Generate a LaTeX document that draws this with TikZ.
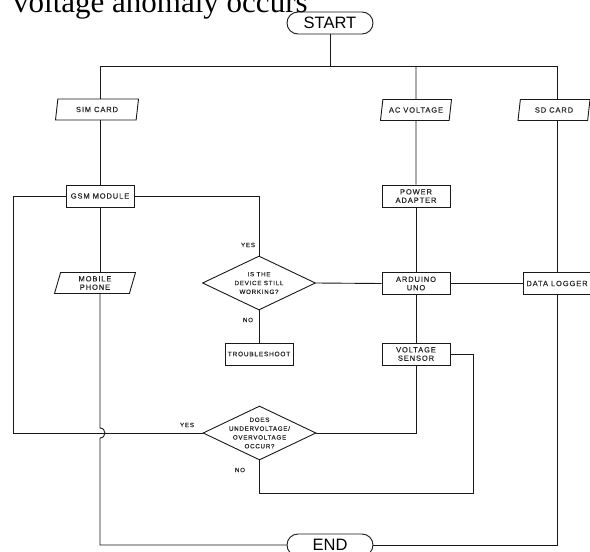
\documentclass[tikz,border=0pt]{standalone}
\usepackage{fontspec}
\setmainfont{Liberation Serif}
\newfontfamily\lblfont[LetterSpace=12,FakeBold=0.4]{Liberation Sans}
\newfontfamily\termfont{Liberation Sans}
\usetikzlibrary{shapes.geometric}
\tikzset{
  base/.style={draw=black!90, line width=0.9pt, text=black!85, align=center, inner sep=0pt},
  proc/.style={base, rectangle, minimum width=68pt, minimum height=22pt,
    font=\lblfont\fontsize{7.5}{8.4}\selectfont},
  io/.style={base, trapezium, trapezium left angle=66, trapezium right angle=114,
    trapezium stretches body, minimum height=21pt,
    font=\lblfont\fontsize{7.5}{8.4}\selectfont},
  term/.style={base, rectangle, rounded corners=11pt, minimum width=86pt, minimum height=22pt,
    text=black, font=\termfont\fontsize{16.5}{18}\selectfont},
  dia/.style={base, diamond, minimum width=113pt, minimum height=54pt},
  diatext/.style={align=center, inner sep=0pt, text=black!85,
    font=\lblfont\fontsize{6.2}{8.8}\selectfont},
  small/.style={inner sep=0pt, text=black!85, font=\lblfont\fontsize{6.2}{7}\selectfont},
  conn/.style={draw=black!90, line width=0.9pt}
}
\begin{document}
\begin{tikzpicture}[x=1pt,y=-1pt]
\useasboundingbox (0,0) rectangle (590,552);
\fill[white] (0,0) rectangle (590,552);

% title fragment
\node[anchor=base west, inner sep=0pt, font=\fontsize{31}{36}\selectfont] (title) at (13,12) {voltage anomaly occurs};

% terminals
\node[term] (start) at (330,23) {START};
\node[term] (end) at (330,545) {END};

% inputs
\node[io, minimum width=83pt] (sim) at (97,109.5) {SIM CARD};
\node[io, minimum width=71pt] (ac) at (416,110) {AC VOLTAGE};
\node[io, minimum width=72pt] (sd) at (554,110) {SD CARD};
\node[io, minimum width=81pt] (mob) at (95,283) {MOBILE\\PHONE};

% processes
\node[proc] (gsm) at (100,196) {GSM MODULE};
\node[proc] (pow) at (416,196) {POWER\\ADAPTER};
\node[proc] (ard) at (416,283.5) {ARDUINO\\UNO};
\node[proc] (dl) at (557,283.5) {DATA LOGGER};
\node[proc] (vs) at (416,354) {VOLTAGE\\SENSOR};
\node[proc, font=\lblfont\fontsize{6.5}{8}\selectfont] (trb) at (259,354) {TROUBLESHOOT};

% decisions
\node[dia] (d1) at (259,283) {};
\node[diatext] (d1t) at (d1.center) {IS THE\\DEVICE STILL\\WORKING?};
\node[dia] (d2) at (259.5,433) {};
\node[diatext] (d2t) at (d2.center) {DOES\\UNDERVOLTAGE/\\OVERVOLTAGE\\OCCUR?};

% labels
\node[small] (yes1) at (248,245) {YES};
\node[small] (no1) at (248,320) {NO};
\node[small] (yes2) at (187,425) {YES};
\node[small] (no2) at (240,470) {NO};

% helper coordinates
\coordinate (T) at (330,66);
\coordinate (L) at (100,66);
\coordinate (R) at (557,66);
\coordinate (M) at (416,66);
\coordinate (FL) at (13,300);
\coordinate (VR) at (473,493);
\coordinate (J1) at (100,428);
\coordinate (J2) at (100,438);

% connectors
\draw[conn] (start) -- (T);
\draw[conn] (L) -- (R);
\draw[conn] (L) -- (sim.north -| L);
\draw[conn] (sim.south -| L) -- (gsm.north);
\draw[conn] (gsm.south) -- (mob.north -| L);
\draw[conn] (mob.south -| L) -- (J1) .. controls (106.5,428) and (106.5,438) .. (J2) -- (L |- end.west) -- (end.west);
\draw[conn] (M) -- (ac.north);
\draw[conn] (ac.south) -- (pow.north);
\draw[conn] (pow.south) -- (ard.north);
\draw[conn] (ard.south) -- (vs.north);
\draw[conn] (R) -- (sd.north -| R);
\draw[conn] (sd.south -| R) -- (dl.north);
\draw[conn] (dl.south) -- (R |- end.east) -- (end.east);
\draw[conn] (gsm.west) -- (gsm.west -| FL) -- (FL |- d2.west) -- (d2.west);
\draw[conn] (gsm.east) -| (d1.north);
\draw[conn] (d1.east) -- (ard.west);
\draw[conn] (ard.east) -- (dl.west);
\draw[conn] (d1.south) -- (trb.north);
\draw[conn] (vs.south) |- (d2.east);
\draw[conn] (d2.south) |- (VR) |- (vs.east);
\end{tikzpicture}
\end{document}
